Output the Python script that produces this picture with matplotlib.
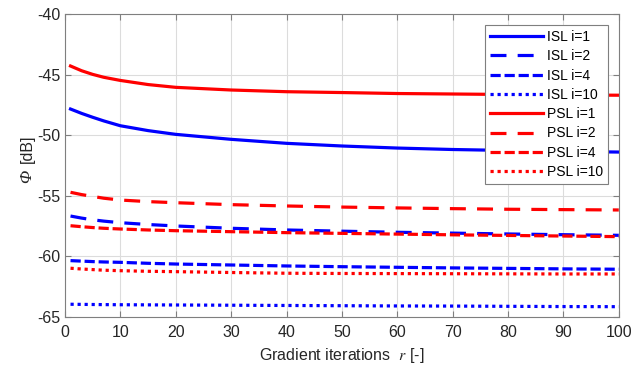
import matplotlib.pyplot as plt

plt.rcParams['font.family'] = ['Liberation Sans', 'DejaVu Sans']
plt.rcParams['mathtext.fontset'] = 'stix'
plt.rcParams['axes.unicode_minus'] = False

r = [1, 3, 5, 7, 10, 15, 20, 30, 40, 50, 60, 70, 80, 90, 100]

isl_1 = [-47.84, -48.20, -48.52, -48.82, -49.22, -49.62, -49.93, -50.34, -50.67, -50.89, -51.06, -51.18, -51.26, -51.34, -51.39]
isl_2 = [-56.67, -56.84, -56.98, -57.09, -57.22, -57.37, -57.49, -57.68, -57.82, -57.92, -58.01, -58.08, -58.15, -58.21, -58.26]
isl_4 = [-60.35, -60.39, -60.43, -60.46, -60.49, -60.57, -60.63, -60.71, -60.79, -60.85, -60.90, -60.95, -60.99, -61.03, -61.06]
isl_10 = [-63.95, -63.96, -63.97, -63.98, -63.99, -64.00, -64.01, -64.03, -64.05, -64.07, -64.09, -64.10, -64.12, -64.14, -64.15]
psl_1 = [-44.29, -44.68, -44.98, -45.22, -45.48, -45.82, -46.05, -46.27, -46.41, -46.48, -46.56, -46.60, -46.64, -46.68, -46.70]
psl_2 = [-54.71, -54.90, -55.05, -55.20, -55.35, -55.48, -55.57, -55.73, -55.84, -55.93, -56.00, -56.06, -56.11, -56.14, -56.17]
psl_4 = [-57.47, -57.55, -57.62, -57.68, -57.74, -57.82, -57.88, -57.96, -58.04, -58.10, -58.16, -58.22, -58.27, -58.32, -58.37]
psl_10 = [-60.98, -61.04, -61.09, -61.14, -61.18, -61.23, -61.26, -61.33, -61.39, -61.41, -61.42, -61.43, -61.44, -61.45, -61.45]

labels = ['ISL i=1', 'ISL i=2', 'ISL i=4', 'ISL i=10',
          'PSL i=1', 'PSL i=2', 'PSL i=4', 'PSL i=10']

fig = plt.figure(figsize=(6.34, 3.71), dpi=100)
ax = fig.add_axes([0.1025, 0.1456, 0.8735, 0.8166])

lw = 2.3
styles = ['-', (0, (5, 3.5)), (0, (3.2, 1.2, 3.2, 1.2)), (0, (1, 1.2))]
isl = [isl_1, isl_2, isl_4, isl_10]
psl = [psl_1, psl_2, psl_4, psl_10]
for i, y in enumerate(isl):
    ax.plot(r, y, color='#0000ff', linestyle=styles[i], linewidth=lw, label=labels[i])
for i, y in enumerate(psl):
    ax.plot(r, y, color='#ff0000', linestyle=styles[i], linewidth=lw, label=labels[4 + i])

ax.set_xlim(0, 100)
ax.set_ylim(-65, -40)
ax.set_xticks(range(0, 101, 10))
ax.set_yticks(range(-65, -39, 5))
ax.grid(True, color='#dcdcdc', linewidth=0.8)
ax.set_axisbelow(True)
for s in ax.spines.values():
    s.set_color('#7f7f7f')
    s.set_linewidth(0.8)
ax.tick_params(direction='in', length=4, colors='#262626', labelsize=11.5,
               top=True, right=True, color='#7f7f7f')
ax.tick_params(axis='x', pad=6)

ax.set_xlabel(r'Gradient iterations  $\mathit{r}$ [-]', fontsize=11.5, color='#262626')

# y label: italic serif Phi followed by upright [dB]
fig.text(27 / 634, 1 - 176 / 371, 'Φ', rotation=90, ha='center', va='center',
         fontsize=12.5, family='Liberation Serif', style='italic', color='#262626')
fig.text(27 / 634, 1 - 149 / 371, '[dB]', rotation=90, ha='center', va='center',
         fontsize=11.5, color='#262626')

leg = ax.legend(loc='upper right', fontsize=10, handlelength=3.8, handletextpad=0.3,
                labelspacing=0.38, borderpad=0.35, fancybox=False, framealpha=1,
                borderaxespad=0.8)
leg.get_frame().set_edgecolor('#7f7f7f')
leg.get_frame().set_linewidth(0.8)

fig.savefig('out.png', dpi=100)
